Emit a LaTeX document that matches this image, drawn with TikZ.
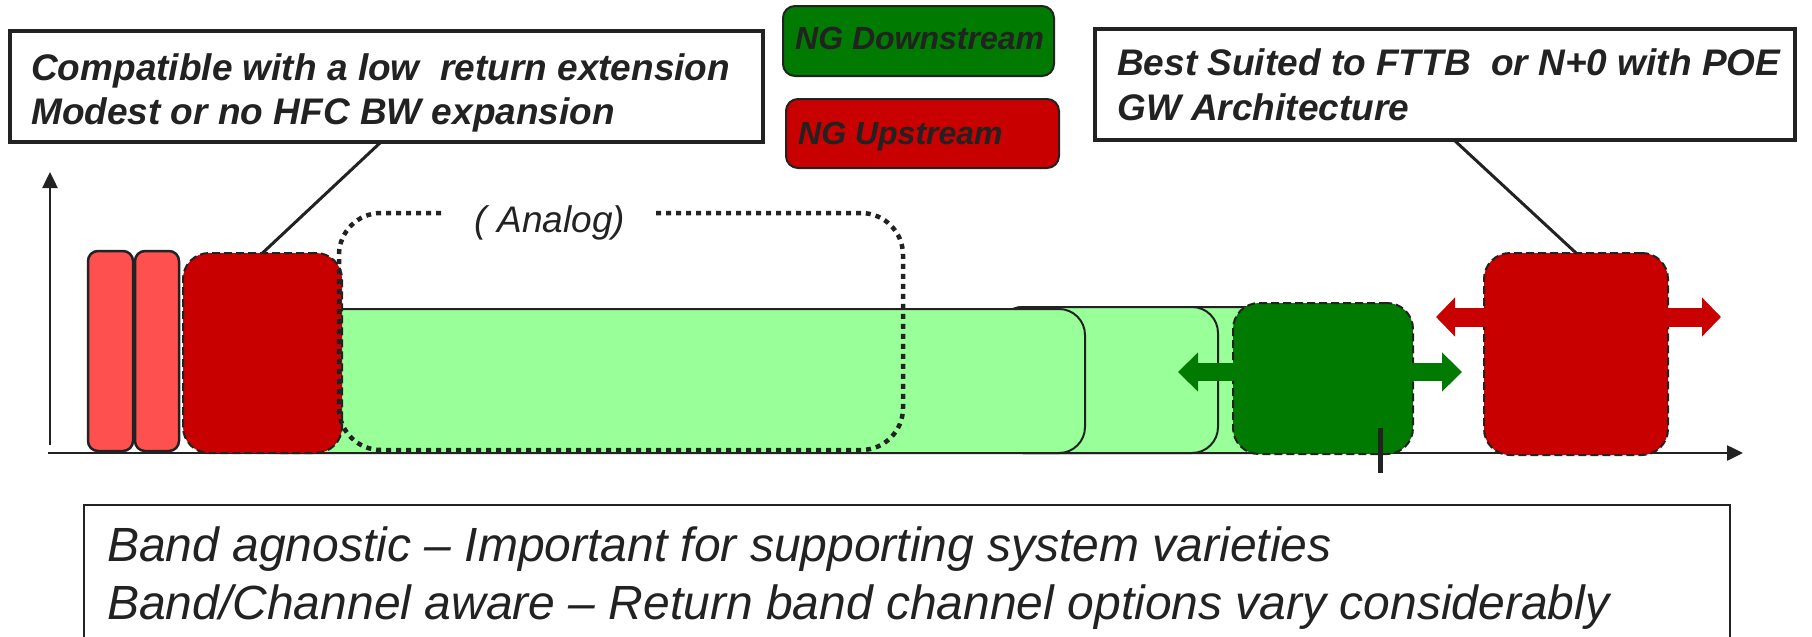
\documentclass[tikz,border=0pt]{standalone}
\usepackage{fontspec}
\setmainfont{Liberation Sans}
\usetikzlibrary{arrows.meta}
\definecolor{dkgreen}{HTML}{007A00}
\definecolor{ngred}{HTML}{C80000}
\definecolor{barpink}{HTML}{FF5050}
\definecolor{ltgreen}{HTML}{99FF99}
\definecolor{ink}{HTML}{222222}
\tikzset{
  shp/.style={anchor=north west, inner sep=0pt, outer sep=0pt},
  callout/.style={shp, draw=ink, line width=4pt, fill=white},
  legendbox/.style={shp, draw=ink, line width=2pt, rounded corners=12pt},
  bar/.style={shp, draw=ink, line width=2.5pt, fill=barpink, rounded corners=10pt},
  band/.style={shp, draw=ink, line width=2pt, fill=ltgreen, rounded corners=26pt},
  ngbox/.style={shp, draw=ink, line width=2pt, dash pattern=on 8pt off 4pt, rounded corners=26pt},
  analogbox/.style={shp, draw=ink, line width=4.5pt, dash pattern=on 5pt off 5pt, rounded corners=42pt},
  txt/.style={anchor=base west, inner sep=0pt, text=ink},
  boldtxt/.style={txt, font=\fontsize{37}{44}\selectfont\bfseries\itshape},
  ngtxt/.style={txt, font=\fontsize{32}{38}\selectfont\bfseries\itshape},
  bigtxt/.style={txt, font=\fontsize{48}{56}\selectfont\itshape},
  axis/.style={draw=ink, line width=2.5pt, -{Triangle[length=16pt,width=15pt]}},
  garrow/.style={draw=dkgreen, line width=18pt, {Triangle[length=20pt,width=38pt]}-{Triangle[length=20pt,width=38pt]}},
  rarrow/.style={draw=ngred, line width=19pt, {Triangle[length=19pt,width=38pt]}-{Triangle[length=19pt,width=38pt]}},
  lead/.style={draw=ink, line width=3pt},
}
\begin{document}
\begin{tikzpicture}[x=1pt,y=-1pt]
\useasboundingbox (0,0) rectangle (1812,637);

% axes
\coordinate (xo) at (48,453);
\coordinate (xe) at (1743,453);
\coordinate (yo) at (50,445);
\coordinate (ye) at (50,172);
\draw[axis] (xo) -- (xe);
\draw[axis] (yo) -- (ye);

% light green bands
\node[band, minimum width=303, minimum height=146] (band3) at (997,307) {};
\node[band, minimum width=221, minimum height=146] (band2) at (997,307) {};
\node[band, minimum width=835, minimum height=144] (band1) at (250,309) {};

% pink bars
\node[bar, minimum width=45, minimum height=200] (bar1) at (88,251) {};
\node[bar, minimum width=44, minimum height=200] (bar2) at (135,251) {};

% NG upstream (left)
\node[ngbox, fill=ngred, minimum width=159, minimum height=200] (redA) at (183,253) {};

% analog dotted box
\node[analogbox, minimum width=564, minimum height=237] (analog) at (339,213) {};
\node[anchor=base, fill=white, inner sep=0pt, minimum width=212, minimum height=30, text=ink,
      font=\fontsize{37}{43}\selectfont\itshape] (analogtxt) at (550,232) {( Analog)};

% NG downstream box
\node[ngbox, fill=dkgreen, minimum width=180, minimum height=151] (grnB) at (1233,303) {};
\coordinate (ga1) at (1178,372);
\coordinate (ga2) at (1462,372);
\draw[garrow] (ga1) -- (ga2);

% tick
\coordinate (t1) at (1380,428);
\coordinate (t2) at (1380,473);
\draw[draw=ink, line width=5pt] (t1) -- (t2);

% NG upstream (right)
\node[ngbox, fill=ngred, minimum width=184, minimum height=202] (redB) at (1484,253) {};
\coordinate (ra1) at (1436,317);
\coordinate (ra2) at (1721,317);
\draw[rarrow] (ra1) -- (ra2);

% legend
\node[legendbox, fill=dkgreen, minimum width=271, minimum height=70] (legD) at (783,6) {};
\node[ngtxt] (legDt) at (795,49) {NG Downstream};
\node[legendbox, fill=ngred, minimum width=273, minimum height=69] (legU) at (786,99) {};
\node[ngtxt] (legUt) at (798,144) {NG Upstream};

% left callout
\node[callout, minimum width=753, minimum height=111] (lcall) at (10,31) {};
\node[boldtxt] (l1) at (31,80) {Compatible with a low\ \ return extension};
\node[boldtxt] (l2) at (31,124) {Modest or no HFC BW expansion};
\coordinate (lc) at (381,142);
\draw[lead] (redA.north) -- (lc);

% right callout
\node[callout, minimum width=700, minimum height=111] (rcall) at (1095,29) {};
\node[boldtxt] (r1) at (1117,75) {Best Suited to FTTB\ \ or N+0 with POE};
\node[boldtxt] (r2) at (1117,120) {GW Architecture};
\coordinate (rc) at (1454,140);
\draw[lead] (redB.north) -- (rc);

% bottom box
\node[shp, draw=ink, line width=2pt, minimum width=1646, minimum height=200] (bottom) at (84,505) {};
\node[bigtxt] (b1) at (107,561) {Band agnostic -- Important for supporting system varieties};
\node[bigtxt] (b2) at (107,619) {Band/Channel aware -- Return band channel options vary considerably};
\end{tikzpicture}
\end{document}
